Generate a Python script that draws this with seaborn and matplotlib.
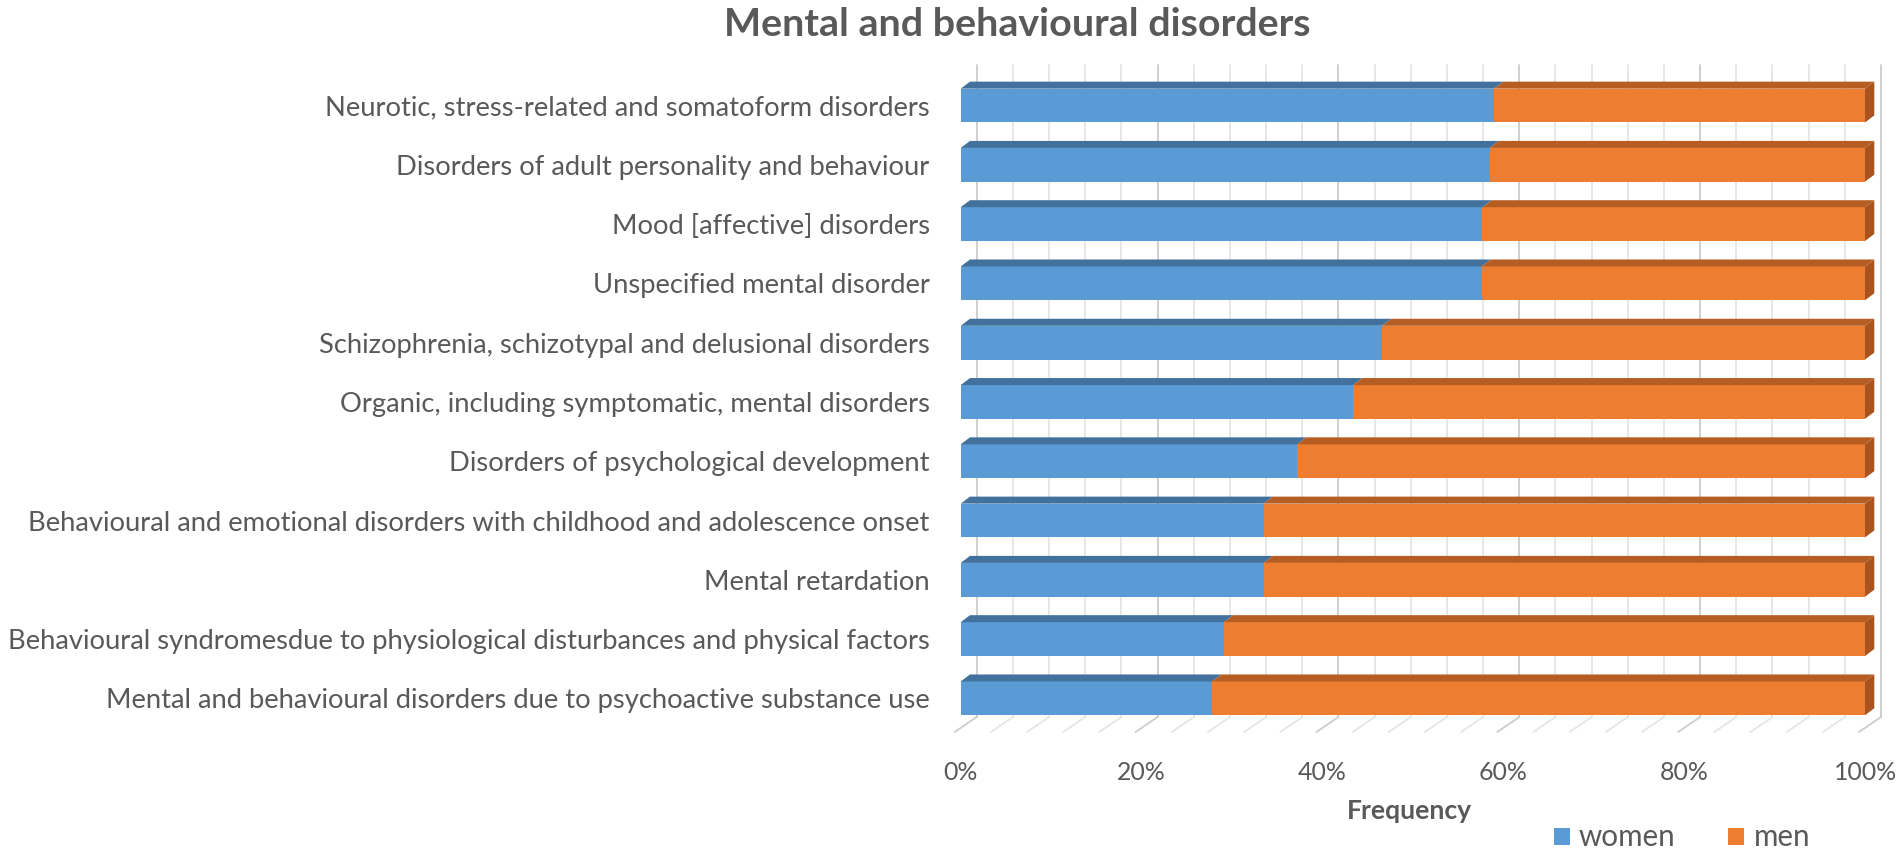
import numpy as np
import pandas as pd
import matplotlib
matplotlib.use("Agg")
import matplotlib.pyplot as plt
import seaborn as sns
from matplotlib.patches import Polygon, Patch
from matplotlib.lines import Line2D

# ---------------- data ----------------
categories = [
    "Neurotic, stress-related and somatoform disorders",
    "Disorders of adult personality and behaviour",
    "Mood [affective] disorders",
    "Unspecified mental disorder",
    "Schizophrenia, schizotypal and delusional disorders",
    "Organic, including symptomatic, mental disorders",
    "Disorders of psychological development",
    "Behavioural and emotional disorders with childhood and adolescence onset",
    "Mental retardation",
    "Behavioural syndromesdue to physiological disturbances and physical factors",
    "Mental and behavioural disorders due to psychoactive substance use",
]
women = [59.0, 58.5, 57.7, 57.6, 46.6, 43.4, 37.2, 33.5, 33.5, 29.1, 27.8]
men = [41.0, 41.5, 42.3, 42.4, 53.4, 56.6, 62.8, 66.5, 66.5, 70.9, 72.2]
xticks = [0, 20, 40, 60, 80, 100]
xtick_labels = ["0%", "20%", "40%", "60%", "80%", "100%"]
series_names = ["women", "men"]
title = "Mental and behavioural disorders"
xlabel = "Frequency"

# ---------------- style ----------------
BLUE, BLUE_TOP = "#5B9BD5", "#41719C"
ORANGE, ORANGE_TOP, ORANGE_SIDE = "#ED7D31", "#B55D22", "#A9541E"
TXT = "#595959"
GRID_MINOR, GRID_MAJOR = "#E5E5E5", "#CCCCCC"

sns.set_style("white")
plt.rcParams["font.family"] = ["Lato", "DejaVu Sans"]

W, H, DPI = 1902, 858, 100
fig = plt.figure(figsize=(W / DPI, H / DPI), dpi=DPI)
L, R, T, B = 960.7, 1865.0, 75.9, 728.0
ax = fig.add_axes([L / W, 1 - B / H, (R - L) / W, (B - T) / H])
ax.patch.set_alpha(0)

df = pd.DataFrame({"cat": categories, "women": women, "men": men})
df["total"] = df["women"] + df["men"]

sns.barplot(data=df, x="total", y="cat", color=ORANGE, saturation=1, width=0.57,
            orient="h", errorbar=None, ax=ax, zorder=3, linewidth=0)
sns.barplot(data=df, x="women", y="cat", color=BLUE, saturation=1, width=0.57,
            orient="h", errorbar=None, ax=ax, zorder=3, linewidth=0)

ax.set_xlim(0, 100)
ax.set_ylim(len(categories) - 0.5, -0.5)
for s in ax.spines.values():
    s.set_visible(False)
ax.grid(False)

# pixel -> data scales
sx = 100.0 / (R - L)
sy = len(categories) / (B - T)

# back wall gridlines and floor lines
bx, by = 16 * sx, -11 * sy
ylo, yhi = -0.5, len(categories) - 0.5
for v in range(0, 101, 4):
    c = GRID_MAJOR if v % 20 == 0 else GRID_MINOR
    ax.add_line(Line2D([v + bx, v + bx], [ylo + by, yhi + by], color=c, lw=1.3,
                       zorder=1, clip_on=False))
    ax.add_line(Line2D([v + bx, v - 6 * sx], [yhi + by, yhi + 4 * sy], color=c, lw=1.3,
                       zorder=1, clip_on=False))

# 3D faces derived from the bar patches
tdx, tdy = 9.3 * sx, -7 * sy
tot_bars = ax.containers[0]
wom_bars = ax.containers[1]
for pt, pw in zip(tot_bars, wom_bars):
    ytop = min(pw.get_y(), pw.get_y() + pw.get_height())
    ybot = max(pw.get_y(), pw.get_y() + pw.get_height())
    x0 = pw.get_x()
    xw = x0 + pw.get_width()
    xt = pt.get_x() + pt.get_width()
    ax.add_patch(Polygon([(x0, ytop), (xw, ytop), (xw + tdx, ytop + tdy), (x0 + tdx, ytop + tdy)],
                         closed=True, fc=BLUE_TOP, ec="none", zorder=4, clip_on=False))
    ax.add_patch(Polygon([(xw, ytop), (xt, ytop), (xt + tdx, ytop + tdy), (xw + tdx, ytop + tdy)],
                         closed=True, fc=ORANGE_TOP, ec="none", zorder=4, clip_on=False))
    ax.add_patch(Polygon([(xt, ytop), (xt, ybot), (xt + tdx, ybot + tdy), (xt + tdx, ytop + tdy)],
                         closed=True, fc=ORANGE_SIDE, ec="none", zorder=4, clip_on=False))

# ticks
ax.set_xticks(xticks)
ax.set_xticklabels(xtick_labels)
ax.set_ylabel("")
ax.set_xlabel("")
ax.tick_params(axis="y", length=0, pad=22.3, labelcolor=TXT, labelsize=19)
ax.tick_params(axis="x", length=0, pad=24, labelcolor=TXT, labelsize=19)

ttl = fig.text(1017 / W, 1 - 24 / H, title, ha="center", va="center",
               fontsize=26, fontweight="bold", color=TXT)
xl = fig.text(1409 / W, 1 - 811 / H, xlabel, ha="center", va="center",
              fontsize=18, fontweight="bold", color=TXT)

handles = [Patch(fc=BLUE, ec="none"), Patch(fc=ORANGE, ec="none")]
leg = fig.legend(handles, series_names, loc="center", bbox_to_anchor=(1682 / W, 1 - 837 / H),
                 ncol=2, frameon=False, handlelength=0.6, handleheight=0.6,
                 handletextpad=0.35, columnspacing=2.0, fontsize=19, labelcolor=TXT)

# fit font sizes to measured widths
fig.canvas.draw()
r = fig.canvas.get_renderer()
ylabs = ax.get_yticklabels()
ref = ylabs[7]  # "Behavioural and emotional ..." spans ~908 px in the reference
f = 908.0 / ref.get_window_extent(r).width
for t in ylabs:
    t.set_fontsize(t.get_fontsize() * f)
xlabs = ax.get_xticklabels()
f = 63.0 / xlabs[-1].get_window_extent(r).width
for t in xlabs:
    t.set_fontsize(t.get_fontsize() * f)
ttl.set_fontsize(ttl.get_fontsize() * 586.0 / ttl.get_window_extent(r).width)
xl.set_fontsize(xl.get_fontsize() * 125.0 / xl.get_window_extent(r).width)
lt = leg.get_texts()
f = 97.0 / lt[0].get_window_extent(r).width
for t in lt:
    t.set_fontsize(t.get_fontsize() * f)

fig.savefig("out.png", dpi=DPI)
